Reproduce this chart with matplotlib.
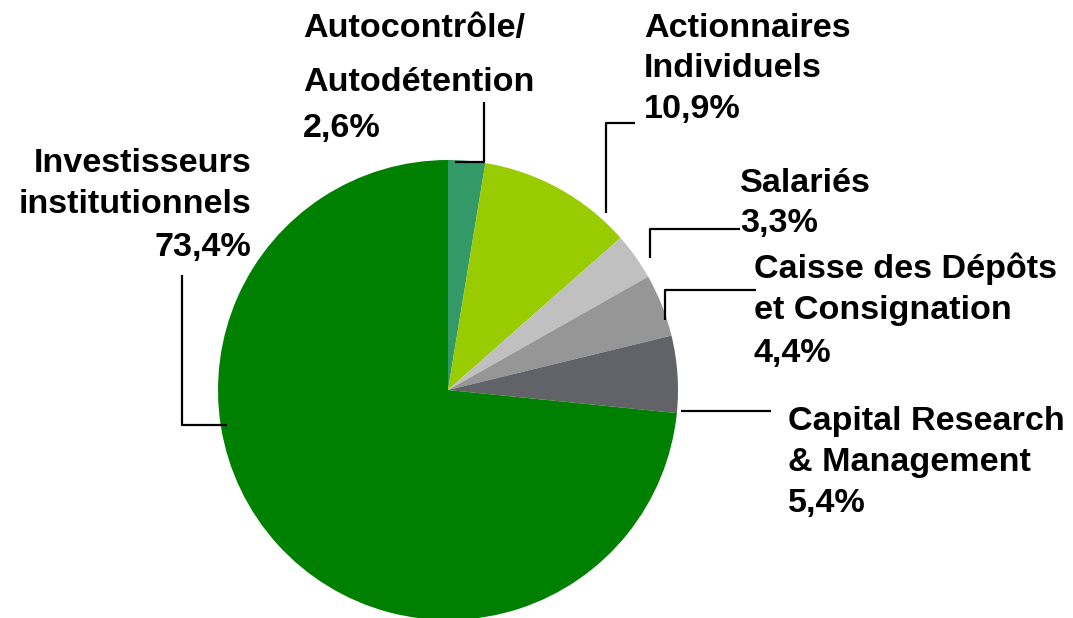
import matplotlib.pyplot as plt

W, H = 1073, 618

# shareholder structure (%)
names = [
    ["Autocontrôle/", "Autodétention"],
    ["Actionnaires", "Individuels"],
    ["Salariés"],
    ["Caisse des Dépôts", "et Consignation"],
    ["Capital Research", "& Management"],
    ["Investisseurs", "institutionnels"],
]
shares = [2.6, 10.9, 3.3, 4.4, 5.4, 73.4]
colors = ["#339966", "#99CC00", "#C0C0C0", "#969696", "#616368", "#008000"]

# label placement in pixels: x, baseline of each line, alignment
label_pos = [
    (303, [37, 91, 137], "left"),
    (644, [37, 77, 118], "left"),
    (740, [192, 232], "left"),
    (754, [278, 319, 362], "left"),
    (788, [430, 471, 512], "left"),
    (251, [172, 213, 256], "right"),
]
# leader lines (pixel polylines)
leaders = [
    [(455, 162), (484, 162), (484, 102)],
    [(606, 213), (606, 123), (635, 123)],
    [(650, 258), (650, 229), (740, 229)],
    [(665, 320), (665, 290), (756, 290)],
    [(681, 411), (771, 411)],
    [(227, 425), (182, 425), (182, 275)],
]

fig = plt.figure(figsize=(W / 100, H / 100), dpi=100)
ax = fig.add_axes([0, 0, 1, 1])

ax.pie(shares, colors=colors, startangle=90, counterclock=False,
       center=(448, H - 390), radius=230,
       wedgeprops=dict(linewidth=0))

for name, val, (x, ys, ha) in zip(names, shares, label_pos):
    lines = name + [f"{val:.1f}".replace(".", ",") + "%"]
    for line, y in zip(lines, ys):
        ax.text(x, H - y, line, ha=ha, va="baseline", fontsize=24.6,
                fontweight="bold", family="Liberation Sans", color="black")

for pts in leaders:
    ax.plot([p[0] for p in pts], [H - p[1] for p in pts],
            color="black", linewidth=1.6, solid_capstyle="butt")

ax.set_xlim(0, W)
ax.set_ylim(0, H)
ax.set_aspect("equal")
ax.axis("off")

fig.savefig("out.png", dpi=100)
